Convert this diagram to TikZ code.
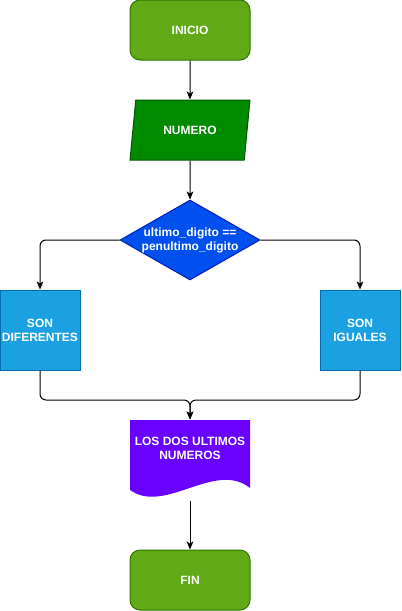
\documentclass[tikz,border=0pt]{standalone}
\usepackage{fontspec}
\setmainfont{Liberation Sans}
\usetikzlibrary{shapes.geometric,arrows.meta}
\definecolor{verde}{HTML}{60A917}
\definecolor{verdeborde}{HTML}{2D7600}
\definecolor{verdeosc}{HTML}{008A00}
\definecolor{verdeoscborde}{HTML}{005700}
\definecolor{azul}{HTML}{0050EF}
\definecolor{azulborde}{HTML}{001DBC}
\definecolor{celeste}{HTML}{1BA1E2}
\definecolor{celesteborde}{HTML}{006EAF}
\definecolor{morado}{HTML}{6A00FF}

\begin{document}
\begin{tikzpicture}[x=0.75pt,y=-0.75pt,line width=0.75pt,
	every node/.style={font=\fontsize{9}{10.5}\selectfont\bfseries, text=white, align=center, inner sep=0pt},
	terminal/.style={rectangle, rounded corners=7.5pt, fill=verde, draw=verdeborde, minimum width=90pt, minimum height=45pt},
	entrada/.style={trapezium, trapezium left angle=71.57, trapezium right angle=108.43, trapezium stretches=true,
		fill=verdeosc, draw=verdeoscborde, minimum width=90pt, minimum height=45pt},
	decision/.style={diamond, fill=azul, draw=azulborde, minimum width=105pt, minimum height=60pt},
	proceso/.style={rectangle, fill=celeste, draw=celesteborde, minimum width=60pt, minimum height=60pt},
	flecha/.style={draw=black, -{Stealth[length=6pt,width=5pt,inset=1.5pt]}}]
\useasboundingbox (0,0) rectangle (402,611);

% nodos
\node[terminal] (inicio) at (190,30) {INICIO};
\node[entrada] (numero) at (190,130) {NUMERO};
\node[decision] (cond) at (190,240) {};
\node (condtxt) at (190,240) {ultimo\_digito ==\\penultimo\_digito};
\node[proceso] (dif) at (40,330) {SON\\DIFERENTES};
\node[proceso] (igu) at (360,330) {SON\\IGUALES};
\fill[morado] (130,420) -- (250,420) -- (250,488) .. controls (215,460) and (165,515) .. (130,490) -- cycle;
\node[minimum width=90pt, minimum height=60pt] (doc) at (190,460) {};
\node (doctxt) at (190,448) {LOS DOS ULTIMOS\\NUMEROS};
\node[terminal] (fin) at (190,580) {FIN};
\coordinate (junta) at (190,400);

% conectores
\draw[flecha] (inicio.south) -- (numero.north);
\draw[flecha] (numero.south) -- (cond.north);
\draw[flecha, rounded corners=4.5pt] (cond.west) -| (dif.north);
\draw[flecha, rounded corners=4.5pt] (cond.east) -| (igu.north);
\draw[flecha, rounded corners=4.5pt] (dif.south) |- (junta) -- (doc.north);
\draw[flecha, rounded corners=4.5pt] (igu.south) |- (junta) -- (doc.north);
\draw[flecha] (doc.south) -- (fin.north);
\end{tikzpicture}
\end{document}
